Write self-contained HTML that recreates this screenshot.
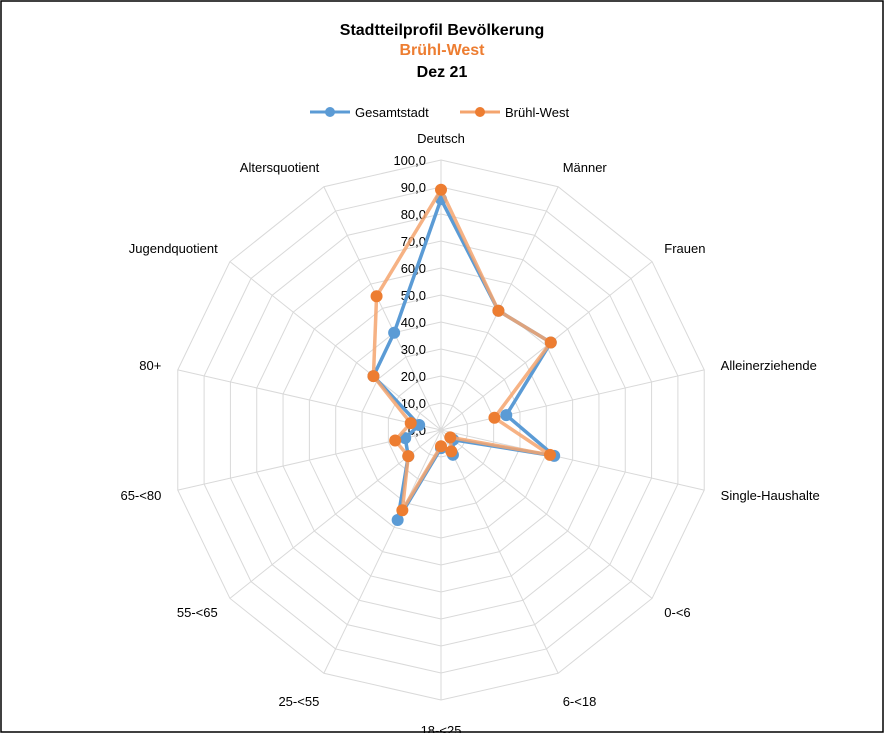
<!DOCTYPE html>
<html><head><meta charset="utf-8"><style>
body{margin:0;background:#fff;font-family:"Liberation Sans",sans-serif}
svg text{font-family:"Liberation Sans",sans-serif}
</style></head><body>
<svg id="c" width="884" height="733" viewBox="0 0 884 733" xmlns="http://www.w3.org/2000/svg">
<rect x="1" y="1" width="882" height="731" fill="#fff" stroke="#000" stroke-width="1.5"/>
<text x="442" y="35" text-anchor="middle" font-size="16" font-weight="bold">Stadtteilprofil Bevölkerung</text>
<text x="442" y="55" text-anchor="middle" font-size="16" font-weight="bold" fill="#ed7d31">Brühl-West</text>
<text x="442" y="77" text-anchor="middle" font-size="16" font-weight="bold">Dez 21</text>
<g>
<g><line x1="310" y1="112" x2="350" y2="112" stroke="#5b9bd5" stroke-width="3"/><circle cx="330" cy="112" r="5" fill="#5b9bd5"/><text x="355" y="117" font-size="13">Gesamtstadt</text></g>
<g><line x1="460" y1="112" x2="500" y2="112" stroke="#f4a46e" stroke-width="3"/><circle cx="480" cy="112" r="5" fill="#ed7d31"/><text x="505" y="117" font-size="13">Brühl-West</text></g>
</g>
<g id="grid"></g><g id="series"></g>
</svg>
<script>
const categories=["Deutsch","Männer","Frauen","Alleinerziehende","Single-Haushalte","0-<6","6-<18","18-<25","25-<55","55-<65","65-<80","80+","Jugendquotient","Altersquotient"];
const gesamtstadt=[85.5,49,52,24.8,43,5.8,10.2,6.7,37,15.5,13.6,8.3,32,40];
const bruehlWest=[89,49,52,20.3,41.4,4.4,8.8,6,33,15.5,17.4,11.5,32,55];
const tickLabels=["0,0","10,0","20,0","30,0","40,0","50,0","60,0","70,0","80,0","90,0","100,0"];
const tickValues=[0,10,20,30,40,50,60,70,80,90,100];
const NS="http://www.w3.org/2000/svg",cx=441,cy=430,R=270,max=100;
const n=categories.length;
function ang(i){return i*2*Math.PI/n;}
function pt(i,v){const r=v/max*R;return [cx+r*Math.sin(ang(i)),cy-r*Math.cos(ang(i))];}
function mk(tag,a,p){const e=document.createElementNS(NS,tag);for(const k in a)e.setAttribute(k,a[k]);p.appendChild(e);return e;}
const g=document.getElementById('grid');
tickValues.forEach((t,k)=>{if(t===0)return;const pts=categories.map((c,i)=>pt(i,t).join(',')).join(' ');
const e=mk('polygon',{points:pts,fill:'none',stroke:'#d9d9d9','stroke-width':1},g);

});
categories.forEach((c,i)=>{const p=pt(i,max);const e=mk('line',{x1:cx,y1:cy,x2:p[0],y2:p[1],stroke:'#d9d9d9'},g);


const s=Math.sin(ang(i)),co=Math.cos(ang(i));const lr=R+22;
const lx=cx+lr*s,ly=cy-lr*co+5+(co<-0.9?8:0);
const t=mk('text',{x:lx+(Math.abs(s)<0.3?0:(s>0?-5:5)),y:ly,'font-size':13,'text-anchor':Math.abs(s)<0.3?'middle':(s>0?'start':'end')},g);
t.textContent=c;

});
tickValues.forEach((t,k)=>{const p=pt(0,t);const e=mk('text',{x:cx-15,y:p[1]+5,'font-size':13,'text-anchor':'end'},g);
e.textContent=tickLabels[k];

});
e0=null;
const sg=document.getElementById('series');
function draw(vals,lc,mc,name,op){const grp=mk('g',{},sg);


const pts=vals.map((v,i)=>pt(i,v).join(',')).join(' ');
mk('polygon',{points:pts,fill:'none',stroke:lc,'stroke-width':3.5,'stroke-opacity':op,'stroke-linejoin':'round'},grp);
vals.forEach((v,i)=>{const p=pt(i,v);const c=mk('circle',{cx:p[0],cy:p[1],r:6,fill:mc},grp);

});}
draw(gesamtstadt,'#5b9bd5','#5b9bd5','series-gesamtstadt',1);
draw(bruehlWest,'#f4a46e','#ed7d31','series-bruehl-west',0.85);
</script>
</body></html>
